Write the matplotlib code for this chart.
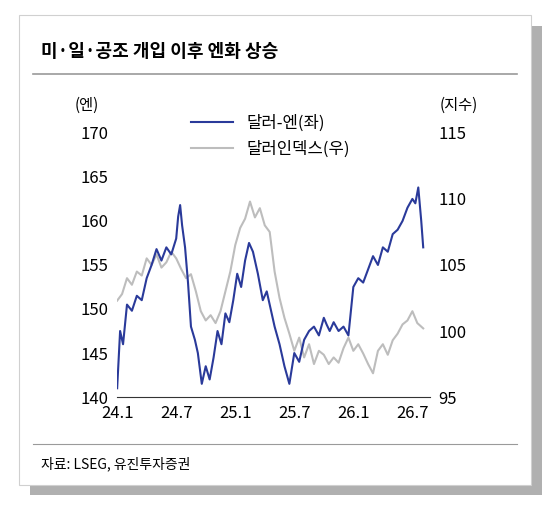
import matplotlib.pyplot as plt
from matplotlib.patches import Rectangle
import matplotlib.lines as mlines

plt.rcParams['font.family'] = ['Noto Sans CJK KR', 'DejaVu Sans']

# months since 2024-01
jpy_t = [0.0, 0.3, 0.6, 1.0, 1.5, 2.0, 2.5, 3.0, 3.5, 4.0, 4.5, 5.0, 5.5, 6.0, 6.2, 6.4,
         6.6, 6.9, 7.2, 7.5, 7.9, 8.2, 8.6, 9.0, 9.4, 9.8, 10.2, 10.6, 11.0, 11.4, 11.8,
         12.2, 12.6, 13.0, 13.4, 13.8, 14.3, 14.8, 15.2, 15.6, 16.0, 16.5, 17.0, 17.5,
         18.0, 18.5, 19.0, 19.5, 20.0, 20.5, 21.0, 21.3, 21.6, 22.0, 22.5, 23.0, 23.5,
         24.0, 24.5, 25.0, 25.5, 26.0, 26.5, 27.0, 27.5, 28.0, 28.5, 29.0, 29.5, 30.0,
         30.3, 30.6, 30.9, 31.1]
jpy_v = [141.0, 147.5, 146.0, 150.5, 149.8, 151.5, 151.0, 153.5, 155.0, 156.8, 155.5,
         157.0, 156.2, 158.0, 160.5, 161.8, 159.5, 157.0, 153.0, 148.0, 146.5, 145.0,
         141.5, 143.5, 142.0, 144.5, 147.5, 146.0, 149.5, 148.5, 151.0, 154.0, 152.5,
         155.5, 157.5, 156.5, 154.0, 151.0, 152.0, 150.0, 148.0, 146.0, 143.5, 141.5,
         145.0, 144.0, 146.5, 147.5, 148.0, 147.0, 149.0, 148.2, 147.5, 148.5, 147.5,
         148.0, 147.0, 152.5, 153.5, 153.0, 154.5, 156.0, 155.0, 157.0, 156.5, 158.5,
         159.0, 160.0, 161.5, 162.5, 162.0, 163.8, 160.0, 157.0]

dxy_t = [0.0, 0.5, 1.0, 1.5, 2.0, 2.5, 3.0, 3.5, 4.0, 4.5, 5.0, 5.5, 6.0, 6.5, 7.0, 7.5,
         8.0, 8.5, 9.0, 9.5, 10.0, 10.5, 11.0, 11.5, 12.0, 12.5, 13.0, 13.5, 14.0, 14.5,
         15.0, 15.5, 16.0, 16.5, 17.0, 17.5, 18.0, 18.5, 19.0, 19.5, 20.0, 20.5, 21.0,
         21.5, 22.0, 22.5, 23.0, 23.5, 24.0, 24.5, 25.0, 25.5, 26.0, 26.5, 27.0, 27.5,
         28.0, 28.5, 29.0, 29.5, 30.0, 30.5, 31.1]
dxy_v = [102.3, 102.8, 104.0, 103.5, 104.5, 104.2, 105.5, 105.0, 105.8, 104.8, 105.2,
         106.0, 105.5, 104.7, 104.0, 104.3, 103.0, 101.5, 100.8, 101.2, 100.6, 101.5,
         103.0, 104.5, 106.5, 107.8, 108.5, 109.8, 108.6, 109.3, 108.0, 107.5, 104.5,
         102.5, 101.0, 99.8, 98.5, 99.5, 98.0, 99.0, 97.5, 98.5, 98.2, 97.5, 98.0, 97.6,
         98.7, 99.5, 98.5, 99.0, 98.3, 97.5, 96.8, 98.5, 99.0, 98.2, 99.3, 99.8, 100.5,
         100.8, 101.5, 100.6, 100.2]

xticks = [0, 6, 12, 18, 24, 30]
xlabels = ['24.1', '24.7', '25.1', '25.7', '26.1', '26.7']

fig = plt.figure(figsize=(5.5, 5.13), dpi=100)
fig.patch.set_facecolor('white')

# shadow and frame
fig.patches.append(Rectangle((0.055, 0.035), 0.93, 0.915, transform=fig.transFigure,
                             facecolor='#b0b0b0', edgecolor='none', zorder=-2))
fig.patches.append(Rectangle((0.035, 0.055), 0.93, 0.915, transform=fig.transFigure,
                             facecolor='white', edgecolor='#d0d0d0', lw=0.8, zorder=-1))
fig.text(0.075, 0.9, '미·일·공조 개입 이후 엔화 상승', fontsize=13, fontweight='bold', va='center')
fig.add_artist(mlines.Line2D([0.06, 0.94], [0.855, 0.855], color='#9a9a9a', lw=1.2))
fig.add_artist(mlines.Line2D([0.06, 0.94], [0.135, 0.135], color='#9a9a9a', lw=0.8))
fig.text(0.075, 0.095, '자료: LSEG, 유진투자증권', fontsize=10, va='center')
fig.text(0.135, 0.795, '(엔)', fontsize=11, va='center')
fig.text(0.8, 0.795, '(지수)', fontsize=11, va='center')

ax = fig.add_axes([0.213, 0.226, 0.569, 0.515])
ax2 = ax.twinx()
ax.set_zorder(ax2.get_zorder() + 1)
ax.patch.set_visible(False)
ax2.patch.set_visible(False)

ax2.plot(dxy_t, dxy_v, color='#bdbdbd', lw=1.5, label='달러인덱스(우)')
ax.plot(jpy_t, jpy_v, color='#2a3a9a', lw=1.5, label='달러-엔(좌)')

ax.set_xlim(0, 31.8)
ax.set_ylim(140, 170)
ax2.set_ylim(95, 115)
ax.set_xticks(xticks)
ax.set_xticklabels(xlabels)
ax.set_yticks(range(140, 171, 5))
ax2.set_yticks(range(95, 116, 5))
for a in (ax, ax2):
    for s in a.spines.values():
        s.set_visible(False)
    a.tick_params(length=0, labelsize=12, pad=6)
ax.spines['bottom'].set_visible(True)
ax.spines['bottom'].set_color('#333333')

h1 = mlines.Line2D([], [], color='#2a3a9a', lw=1.5)
h2 = mlines.Line2D([], [], color='#bdbdbd', lw=1.5)
fig.legend([h1, h2], ['달러-엔(좌)', '달러인덱스(우)'], loc='upper left',
           bbox_to_anchor=(0.32, 0.805), frameon=False, fontsize=12,
           handlelength=2.5, labelspacing=0.5)

fig.savefig('out.png', dpi=100)
